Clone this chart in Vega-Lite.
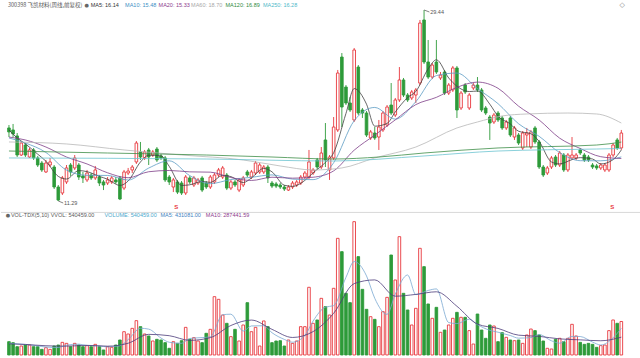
{
"$schema": "https://vega.github.io/schema/vega-lite/v6.json",
"padding": 0,
"spacing": 0,
"background": "white",
"config": {"view": {"stroke": null}, "concat": {"spacing": 0}},
"datasets": {
"k": [
{"i":0,"o":18.23,"h":18.51,"l":17.37,"c":17.85,"v":215000},
{"i":1,"o":18.04,"h":18.61,"l":17.37,"c":17.66,"v":199000},
{"i":2,"o":17.47,"h":17.75,"l":15.47,"c":15.66,"v":134000},
{"i":3,"o":15.66,"h":16.99,"l":15.57,"c":16.80,"v":145000},
{"i":4,"o":16.61,"h":16.80,"l":15.47,"c":15.66,"v":161000},
{"i":5,"o":15.47,"h":16.33,"l":15.38,"c":16.14,"v":161000},
{"i":6,"o":16.14,"h":16.33,"l":15.19,"c":15.38,"v":134000},
{"i":7,"o":15.38,"h":15.57,"l":14.52,"c":14.71,"v":134000},
{"i":8,"o":14.90,"h":15.09,"l":14.05,"c":14.24,"v":91000},
{"i":9,"o":14.05,"h":15.19,"l":13.95,"c":14.90,"v":118000},
{"i":10,"o":14.71,"h":15.38,"l":14.52,"c":15.00,"v":91000},
{"i":11,"o":14.52,"h":14.71,"l":12.43,"c":12.62,"v":145000},
{"i":12,"o":12.62,"h":12.81,"l":11.29,"c":11.38,"v":161000},
{"i":13,"o":12.05,"h":13.67,"l":11.86,"c":13.48,"v":204000},
{"i":14,"o":13.10,"h":14.71,"l":12.91,"c":14.43,"v":188000},
{"i":15,"o":14.71,"h":14.90,"l":13.67,"c":14.05,"v":134000},
{"i":16,"o":14.43,"h":15.66,"l":14.24,"c":15.38,"v":188000},
{"i":17,"o":14.71,"h":14.90,"l":13.29,"c":13.57,"v":161000},
{"i":18,"o":13.67,"h":14.05,"l":13.00,"c":13.48,"v":134000},
{"i":19,"o":13.29,"h":14.24,"l":13.10,"c":13.95,"v":151000},
{"i":20,"o":13.76,"h":13.95,"l":13.29,"c":13.48,"v":134000},
{"i":21,"o":13.48,"h":14.62,"l":13.29,"c":14.24,"v":172000},
{"i":22,"o":13.57,"h":13.76,"l":12.71,"c":13.00,"v":134000},
{"i":23,"o":13.10,"h":13.29,"l":12.33,"c":12.81,"v":81000},
{"i":24,"o":13.00,"h":13.57,"l":12.81,"c":13.29,"v":134000},
{"i":25,"o":13.10,"h":13.67,"l":12.91,"c":13.48,"v":124000},
{"i":26,"o":13.29,"h":13.57,"l":12.91,"c":13.10,"v":161000},
{"i":27,"o":13.48,"h":13.67,"l":11.38,"c":11.48,"v":242000},
{"i":28,"o":12.52,"h":14.24,"l":12.33,"c":14.05,"v":376000},
{"i":29,"o":13.95,"h":14.43,"l":13.76,"c":14.14,"v":339000},
{"i":30,"o":14.24,"h":14.71,"l":13.95,"c":14.52,"v":430000},
{"i":31,"o":15.00,"h":16.99,"l":14.81,"c":16.80,"v":554000},
{"i":32,"o":15.95,"h":16.90,"l":15.19,"c":15.47,"v":457000},
{"i":33,"o":15.38,"h":16.14,"l":15.19,"c":15.95,"v":339000},
{"i":34,"o":16.14,"h":16.33,"l":14.71,"c":15.47,"v":307000},
{"i":35,"o":15.66,"h":16.14,"l":15.47,"c":15.95,"v":226000},
{"i":36,"o":16.23,"h":16.42,"l":15.00,"c":15.19,"v":253000},
{"i":37,"o":15.57,"h":15.76,"l":15.19,"c":15.38,"v":242000},
{"i":38,"o":15.38,"h":15.57,"l":13.10,"c":13.29,"v":199000},
{"i":39,"o":13.57,"h":13.76,"l":12.81,"c":13.10,"v":108000},
{"i":40,"o":12.62,"h":13.48,"l":12.14,"c":13.29,"v":215000},
{"i":41,"o":13.10,"h":13.29,"l":11.95,"c":12.14,"v":188000},
{"i":42,"o":13.00,"h":13.19,"l":11.86,"c":12.05,"v":231000},
{"i":43,"o":12.05,"h":13.76,"l":11.86,"c":13.57,"v":446000},
{"i":44,"o":13.48,"h":13.67,"l":12.91,"c":13.10,"v":253000},
{"i":45,"o":12.81,"h":13.67,"l":12.62,"c":13.48,"v":280000},
{"i":46,"o":13.00,"h":13.48,"l":12.81,"c":13.29,"v":226000},
{"i":47,"o":13.48,"h":13.67,"l":12.14,"c":12.33,"v":199000},
{"i":48,"o":13.00,"h":13.19,"l":12.43,"c":12.62,"v":350000},
{"i":49,"o":12.62,"h":13.76,"l":12.43,"c":13.57,"v":414000},
{"i":50,"o":13.10,"h":13.95,"l":12.91,"c":13.76,"v":941000},
{"i":51,"o":13.76,"h":14.43,"l":13.57,"c":14.24,"v":898000},
{"i":52,"o":13.57,"h":14.62,"l":13.38,"c":14.43,"v":645000},
{"i":53,"o":13.76,"h":13.95,"l":12.33,"c":12.52,"v":511000},
{"i":54,"o":12.52,"h":13.29,"l":12.33,"c":13.10,"v":296000},
{"i":55,"o":13.10,"h":13.29,"l":12.62,"c":12.81,"v":414000},
{"i":56,"o":12.33,"h":13.48,"l":12.14,"c":13.29,"v":226000},
{"i":57,"o":12.81,"h":13.67,"l":12.62,"c":13.48,"v":484000},
{"i":58,"o":14.05,"h":14.24,"l":13.57,"c":13.76,"v":844000},
{"i":59,"o":13.57,"h":14.24,"l":13.38,"c":14.05,"v":376000},
{"i":60,"o":13.95,"h":15.09,"l":13.76,"c":14.90,"v":446000},
{"i":61,"o":14.05,"h":14.90,"l":13.86,"c":14.71,"v":145000},
{"i":62,"o":14.05,"h":14.71,"l":13.86,"c":14.52,"v":549000},
{"i":63,"o":14.52,"h":14.71,"l":13.00,"c":13.48,"v":457000},
{"i":64,"o":13.00,"h":13.19,"l":12.52,"c":12.71,"v":199000},
{"i":65,"o":12.91,"h":13.10,"l":12.52,"c":12.71,"v":226000},
{"i":66,"o":12.81,"h":13.00,"l":12.43,"c":12.62,"v":231000},
{"i":67,"o":12.62,"h":12.81,"l":12.24,"c":12.43,"v":145000},
{"i":68,"o":12.33,"h":12.81,"l":12.24,"c":12.62,"v":242000},
{"i":69,"o":12.62,"h":13.19,"l":12.43,"c":13.00,"v":188000},
{"i":70,"o":12.81,"h":13.29,"l":12.62,"c":13.10,"v":226000},
{"i":71,"o":13.00,"h":13.76,"l":12.81,"c":13.57,"v":457000},
{"i":72,"o":13.57,"h":14.14,"l":13.38,"c":13.95,"v":457000},
{"i":73,"o":13.57,"h":16.14,"l":13.38,"c":15.00,"v":1092000},
{"i":74,"o":13.95,"h":14.43,"l":13.76,"c":14.24,"v":511000},
{"i":75,"o":15.19,"h":15.38,"l":14.24,"c":14.52,"v":565000},
{"i":76,"o":14.52,"h":16.42,"l":14.33,"c":15.85,"v":914000},
{"i":77,"o":17.09,"h":18.70,"l":14.52,"c":15.19,"v":780000},
{"i":78,"o":14.24,"h":15.66,"l":13.29,"c":15.47,"v":645000},
{"i":79,"o":15.38,"h":19.27,"l":15.19,"c":18.32,"v":1076000},
{"i":80,"o":18.04,"h":23.74,"l":17.85,"c":23.45,"v":1882000},
{"i":81,"o":24.97,"h":25.35,"l":18.32,"c":20.22,"v":1667000},
{"i":82,"o":22.12,"h":22.31,"l":20.41,"c":20.60,"v":995000},
{"i":83,"o":20.60,"h":21.17,"l":19.75,"c":19.94,"v":844000},
{"i":84,"o":18.99,"h":25.83,"l":18.80,"c":25.64,"v":2151000},
{"i":85,"o":24.02,"h":24.21,"l":19.46,"c":19.65,"v":1587000},
{"i":86,"o":19.94,"h":20.13,"l":19.18,"c":19.65,"v":1059000},
{"i":87,"o":19.65,"h":19.84,"l":17.37,"c":17.56,"v":737000},
{"i":88,"o":17.28,"h":18.04,"l":17.09,"c":17.85,"v":618000},
{"i":89,"o":17.75,"h":18.32,"l":17.09,"c":17.28,"v":575000},
{"i":90,"o":17.37,"h":18.99,"l":16.14,"c":18.32,"v":457000},
{"i":91,"o":18.04,"h":19.84,"l":17.85,"c":19.65,"v":699000},
{"i":92,"o":18.51,"h":20.41,"l":18.32,"c":20.22,"v":930000},
{"i":93,"o":20.41,"h":22.50,"l":19.46,"c":19.65,"v":1613000},
{"i":94,"o":19.46,"h":21.08,"l":19.27,"c":20.89,"v":1210000},
{"i":95,"o":20.89,"h":24.02,"l":20.70,"c":22.79,"v":1909000},
{"i":96,"o":22.79,"h":22.98,"l":21.17,"c":21.36,"v":995000},
{"i":97,"o":21.36,"h":21.55,"l":20.70,"c":20.89,"v":726000},
{"i":98,"o":21.08,"h":21.84,"l":20.89,"c":21.65,"v":484000},
{"i":99,"o":21.36,"h":22.03,"l":20.60,"c":21.84,"v":753000},
{"i":100,"o":22.50,"h":28.49,"l":22.31,"c":28.20,"v":1721000},
{"i":101,"o":28.49,"h":29.44,"l":24.31,"c":24.50,"v":1425000},
{"i":102,"o":24.50,"h":26.59,"l":22.88,"c":23.07,"v":823000},
{"i":103,"o":23.07,"h":24.40,"l":22.88,"c":24.21,"v":592000},
{"i":104,"o":24.50,"h":26.59,"l":23.36,"c":23.55,"v":769000},
{"i":105,"o":22.98,"h":23.55,"l":22.79,"c":23.26,"v":366000},
{"i":106,"o":23.55,"h":23.74,"l":21.36,"c":21.55,"v":403000},
{"i":107,"o":21.55,"h":22.50,"l":21.36,"c":22.31,"v":484000},
{"i":108,"o":21.84,"h":24.12,"l":21.65,"c":23.93,"v":592000},
{"i":109,"o":23.93,"h":24.12,"l":19.18,"c":19.94,"v":688000},
{"i":110,"o":20.13,"h":21.74,"l":19.94,"c":21.55,"v":608000},
{"i":111,"o":22.31,"h":22.50,"l":21.46,"c":21.65,"v":608000},
{"i":112,"o":20.13,"h":21.55,"l":19.94,"c":21.36,"v":393000},
{"i":113,"o":22.03,"h":22.50,"l":21.84,"c":22.31,"v":177000},
{"i":114,"o":22.31,"h":23.07,"l":21.65,"c":21.84,"v":661000},
{"i":115,"o":21.84,"h":22.03,"l":19.75,"c":19.94,"v":403000},
{"i":116,"o":20.13,"h":20.32,"l":19.46,"c":19.65,"v":269000},
{"i":117,"o":19.27,"h":19.46,"l":17.09,"c":18.70,"v":484000},
{"i":118,"o":18.80,"h":19.65,"l":18.61,"c":19.46,"v":468000},
{"i":119,"o":19.65,"h":19.84,"l":18.80,"c":18.99,"v":215000},
{"i":120,"o":19.18,"h":19.37,"l":18.04,"c":18.23,"v":360000},
{"i":121,"o":18.23,"h":18.99,"l":18.04,"c":18.80,"v":285000},
{"i":122,"o":19.18,"h":19.37,"l":17.37,"c":17.56,"v":242000},
{"i":123,"o":17.37,"h":18.42,"l":17.09,"c":18.23,"v":231000},
{"i":124,"o":17.56,"h":17.75,"l":16.61,"c":16.80,"v":242000},
{"i":125,"o":16.33,"h":17.94,"l":16.14,"c":17.75,"v":188000},
{"i":126,"o":17.56,"h":18.23,"l":16.42,"c":17.75,"v":323000},
{"i":127,"o":16.42,"h":18.04,"l":16.23,"c":17.85,"v":419000},
{"i":128,"o":18.23,"h":18.42,"l":16.71,"c":16.90,"v":393000},
{"i":129,"o":16.90,"h":17.09,"l":14.33,"c":14.52,"v":323000},
{"i":130,"o":14.52,"h":14.71,"l":13.57,"c":13.76,"v":226000},
{"i":131,"o":13.95,"h":14.62,"l":13.76,"c":14.43,"v":108000},
{"i":132,"o":14.52,"h":15.57,"l":14.33,"c":15.38,"v":97000},
{"i":133,"o":15.47,"h":15.66,"l":14.52,"c":14.71,"v":253000},
{"i":134,"o":14.71,"h":16.04,"l":14.52,"c":15.85,"v":269000},
{"i":135,"o":15.66,"h":15.85,"l":14.05,"c":14.24,"v":215000},
{"i":136,"o":14.24,"h":15.85,"l":14.05,"c":15.66,"v":269000},
{"i":137,"o":15.38,"h":17.37,"l":15.19,"c":15.66,"v":495000},
{"i":138,"o":15.38,"h":15.85,"l":15.19,"c":15.66,"v":307000},
{"i":139,"o":16.14,"h":16.33,"l":15.66,"c":15.85,"v":204000},
{"i":140,"o":15.66,"h":15.85,"l":15.00,"c":15.19,"v":172000},
{"i":141,"o":15.47,"h":15.66,"l":15.00,"c":15.19,"v":188000},
{"i":142,"o":14.71,"h":14.90,"l":14.33,"c":14.52,"v":172000},
{"i":143,"o":14.62,"h":14.81,"l":14.24,"c":14.43,"v":124000},
{"i":144,"o":14.43,"h":14.90,"l":14.24,"c":14.71,"v":151000},
{"i":145,"o":14.24,"h":14.90,"l":14.05,"c":14.71,"v":161000},
{"i":146,"o":14.24,"h":15.85,"l":14.05,"c":15.66,"v":393000},
{"i":147,"o":15.66,"h":16.80,"l":15.47,"c":16.61,"v":565000},
{"i":148,"o":17.09,"h":17.28,"l":16.14,"c":16.33,"v":511000},
{"i":149,"o":16.33,"h":18.04,"l":16.14,"c":17.75,"v":540459}
],
"ma": [
{"s":"MA5","i":0,"p":18.04},{"s":"MA5","i":2,"p":17.28},{"s":"MA5","i":4,"p":16.72},{"s":"MA5","i":7,"p":15.74},{"s":"MA5","i":9,"p":15.07},{"s":"MA5","i":12,"p":13.63},{"s":"MA5","i":14,"p":13.38},{"s":"MA5","i":17,"p":14.18},{"s":"MA5","i":19,"p":14.08},{"s":"MA5","i":22,"p":13.63},{"s":"MA5","i":24,"p":13.36},{"s":"MA5","i":27,"p":12.77},{"s":"MA5","i":29,"p":13.19},{"s":"MA5","i":32,"p":15.00},{"s":"MA5","i":34,"p":15.64},{"s":"MA5","i":37,"p":15.58},{"s":"MA5","i":39,"p":14.58},{"s":"MA5","i":42,"p":12.77},{"s":"MA5","i":44,"p":12.83},{"s":"MA5","i":47,"p":13.15},{"s":"MA5","i":49,"p":13.06},{"s":"MA5","i":52,"p":13.72},{"s":"MA5","i":54,"p":13.61},{"s":"MA5","i":57,"p":13.04},{"s":"MA5","i":59,"p":13.48},{"s":"MA5","i":62,"p":14.39},{"s":"MA5","i":64,"p":14.06},{"s":"MA5","i":67,"p":12.79},{"s":"MA5","i":69,"p":12.68},{"s":"MA5","i":72,"p":13.25},{"s":"MA5","i":74,"p":13.97},{"s":"MA5","i":77,"p":14.96},{"s":"MA5","i":79,"p":15.87},{"s":"MA5","i":82,"p":19.61},{"s":"MA5","i":84,"p":21.97},{"s":"MA5","i":87,"p":20.49},{"s":"MA5","i":89,"p":18.40},{"s":"MA5","i":92,"p":18.66},{"s":"MA5","i":94,"p":19.75},{"s":"MA5","i":97,"p":21.12},{"s":"MA5","i":99,"p":21.70},{"s":"MA5","i":102,"p":23.85},{"s":"MA5","i":104,"p":24.71},{"s":"MA5","i":107,"p":22.98},{"s":"MA5","i":109,"p":22.20},{"s":"MA5","i":112,"p":21.69},{"s":"MA5","i":114,"p":21.74},{"s":"MA5","i":117,"p":20.49},{"s":"MA5","i":119,"p":19.35},{"s":"MA5","i":122,"p":18.61},{"s":"MA5","i":124,"p":17.92},{"s":"MA5","i":127,"p":17.68},{"s":"MA5","i":129,"p":16.95},{"s":"MA5","i":132,"p":15.00},{"s":"MA5","i":134,"p":14.82},{"s":"MA5","i":137,"p":15.22},{"s":"MA5","i":139,"p":15.41},{"s":"MA5","i":142,"p":15.28},{"s":"MA5","i":144,"p":14.81},{"s":"MA5","i":147,"p":15.22},{"s":"MA5","i":149,"p":16.14},
{"s":"MA10","i":0,"p":17.28},{"s":"MA10","i":4,"p":16.80},{"s":"MA10","i":9,"p":15.90},{"s":"MA10","i":14,"p":14.23},{"s":"MA10","i":19,"p":13.73},{"s":"MA10","i":24,"p":13.72},{"s":"MA10","i":29,"p":13.28},{"s":"MA10","i":34,"p":14.42},{"s":"MA10","i":39,"p":15.11},{"s":"MA10","i":44,"p":13.70},{"s":"MA10","i":49,"p":12.94},{"s":"MA10","i":54,"p":13.33},{"s":"MA10","i":59,"p":13.54},{"s":"MA10","i":64,"p":13.77},{"s":"MA10","i":69,"p":13.37},{"s":"MA10","i":74,"p":13.32},{"s":"MA10","i":79,"p":14.92},{"s":"MA10","i":84,"p":18.92},{"s":"MA10","i":89,"p":20.18},{"s":"MA10","i":94,"p":19.07},{"s":"MA10","i":99,"p":20.73},{"s":"MA10","i":104,"p":23.21},{"s":"MA10","i":109,"p":23.45},{"s":"MA10","i":114,"p":21.97},{"s":"MA10","i":119,"p":20.54},{"s":"MA10","i":124,"p":18.63},{"s":"MA10","i":129,"p":17.44},{"s":"MA10","i":134,"p":15.89},{"s":"MA10","i":139,"p":15.12},{"s":"MA10","i":144,"p":15.11},{"s":"MA10","i":149,"p":15.48},
{"s":"MA20","i":0,"p":17.37},{"s":"MA20","i":4,"p":17.09},{"s":"MA20","i":9,"p":16.42},{"s":"MA20","i":14,"p":15.47},{"s":"MA20","i":19,"p":14.81},{"s":"MA20","i":24,"p":13.97},{"s":"MA20","i":29,"p":13.50},{"s":"MA20","i":34,"p":14.07},{"s":"MA20","i":39,"p":14.19},{"s":"MA20","i":44,"p":14.06},{"s":"MA20","i":49,"p":14.03},{"s":"MA20","i":54,"p":13.52},{"s":"MA20","i":59,"p":13.24},{"s":"MA20","i":64,"p":13.55},{"s":"MA20","i":69,"p":13.46},{"s":"MA20","i":74,"p":13.55},{"s":"MA20","i":79,"p":14.15},{"s":"MA20","i":84,"p":16.12},{"s":"MA20","i":89,"p":17.55},{"s":"MA20","i":94,"p":19.00},{"s":"MA20","i":99,"p":20.45},{"s":"MA20","i":104,"p":21.14},{"s":"MA20","i":109,"p":22.09},{"s":"MA20","i":114,"p":22.59},{"s":"MA20","i":119,"p":22.00},{"s":"MA20","i":124,"p":20.30},{"s":"MA20","i":129,"p":18.99},{"s":"MA20","i":134,"p":17.26},{"s":"MA20","i":139,"p":16.28},{"s":"MA20","i":144,"p":15.50},{"s":"MA20","i":149,"p":15.33},
{"s":"MA60","i":0,"p":16.90},{"s":"MA60","i":14,"p":16.71},{"s":"MA60","i":28,"p":16.14},{"s":"MA60","i":42,"p":15.66},{"s":"MA60","i":57,"p":15.19},{"s":"MA60","i":66,"p":14.62},{"s":"MA60","i":74,"p":14.24},{"s":"MA60","i":81,"p":14.43},{"s":"MA60","i":89,"p":15.38},{"s":"MA60","i":99,"p":16.42},{"s":"MA60","i":109,"p":18.23},{"s":"MA60","i":114,"p":18.80},{"s":"MA60","i":120,"p":19.37},{"s":"MA60","i":126,"p":19.56},{"s":"MA60","i":136,"p":19.65},{"s":"MA60","i":143,"p":19.56},{"s":"MA60","i":149,"p":18.70},
{"s":"MA120","i":0,"p":16.04},{"s":"MA120","i":24,"p":15.85},{"s":"MA120","i":48,"p":15.66},{"s":"MA120","i":64,"p":15.47},{"s":"MA120","i":79,"p":15.28},{"s":"MA120","i":90,"p":15.47},{"s":"MA120","i":101,"p":15.85},{"s":"MA120","i":119,"p":16.33},{"s":"MA120","i":143,"p":16.61},{"s":"MA120","i":149,"p":16.89},
{"s":"MA250","i":0,"p":15.38},{"s":"MA250","i":48,"p":15.28},{"s":"MA250","i":79,"p":15.09},{"s":"MA250","i":101,"p":15.57},{"s":"MA250","i":119,"p":16.04},{"s":"MA250","i":143,"p":16.23},{"s":"MA250","i":149,"p":16.28}
],
"vma": [
{"s":"VMA5","i":0,"v":190000},{"s":"VMA5","i":2,"v":180000},{"s":"VMA5","i":4,"v":170800},{"s":"VMA5","i":7,"v":147000},{"s":"VMA5","i":9,"v":127600},{"s":"VMA5","i":12,"v":121200},{"s":"VMA5","i":14,"v":157800},{"s":"VMA5","i":17,"v":175000},{"s":"VMA5","i":19,"v":153600},{"s":"VMA5","i":22,"v":145000},{"s":"VMA5","i":24,"v":131000},{"s":"VMA5","i":27,"v":148400},{"s":"VMA5","i":29,"v":248400},{"s":"VMA5","i":32,"v":431200},{"s":"VMA5","i":34,"v":417400},{"s":"VMA5","i":37,"v":273400},{"s":"VMA5","i":39,"v":205600},{"s":"VMA5","i":42,"v":188200},{"s":"VMA5","i":44,"v":266600},{"s":"VMA5","i":47,"v":280800},{"s":"VMA5","i":49,"v":293800},{"s":"VMA5","i":52,"v":649600},{"s":"VMA5","i":54,"v":658200},{"s":"VMA5","i":57,"v":386200},{"s":"VMA5","i":59,"v":468800},{"s":"VMA5","i":62,"v":472000},{"s":"VMA5","i":64,"v":359200},{"s":"VMA5","i":67,"v":251600},{"s":"VMA5","i":69,"v":206400},{"s":"VMA5","i":72,"v":314000},{"s":"VMA5","i":74,"v":548600},{"s":"VMA5","i":77,"v":772400},{"s":"VMA5","i":79,"v":796000},{"s":"VMA5","i":82,"v":1253000},{"s":"VMA5","i":84,"v":1507800},{"s":"VMA5","i":87,"v":1275600},{"s":"VMA5","i":89,"v":915200},{"s":"VMA5","i":92,"v":655800},{"s":"VMA5","i":94,"v":981800},{"s":"VMA5","i":97,"v":1290600},{"s":"VMA5","i":99,"v":973400},{"s":"VMA5","i":102,"v":1041200},{"s":"VMA5","i":104,"v":1066000},{"s":"VMA5","i":107,"v":522800},{"s":"VMA5","i":109,"v":506600},{"s":"VMA5","i":112,"v":577800},{"s":"VMA5","i":114,"v":489400},{"s":"VMA5","i":117,"v":398800},{"s":"VMA5","i":119,"v":367800},{"s":"VMA5","i":122,"v":314000},{"s":"VMA5","i":124,"v":272000},{"s":"VMA5","i":127,"v":280600},{"s":"VMA5","i":129,"v":329200},{"s":"VMA5","i":132,"v":229400},{"s":"VMA5","i":134,"v":190600},{"s":"VMA5","i":137,"v":300200},{"s":"VMA5","i":139,"v":298000},{"s":"VMA5","i":142,"v":208600},{"s":"VMA5","i":144,"v":161400},{"s":"VMA5","i":147,"v":278800},{"s":"VMA5","i":149,"v":431081},
{"s":"VMA10","i":0,"v":180000},{"s":"VMA10","i":4,"v":170000},{"s":"VMA10","i":9,"v":149200},{"s":"VMA10","i":14,"v":142700},{"s":"VMA10","i":19,"v":155700},{"s":"VMA10","i":24,"v":142300},{"s":"VMA10","i":29,"v":189700},{"s":"VMA10","i":34,"v":332900},{"s":"VMA10","i":39,"v":311500},{"s":"VMA10","i":44,"v":236100},{"s":"VMA10","i":49,"v":280200},{"s":"VMA10","i":54,"v":476000},{"s":"VMA10","i":59,"v":563500},{"s":"VMA10","i":64,"v":414000},{"s":"VMA10","i":69,"v":282800},{"s":"VMA10","i":74,"v":377500},{"s":"VMA10","i":79,"v":672300},{"s":"VMA10","i":84,"v":1151900},{"s":"VMA10","i":89,"v":1211500},{"s":"VMA10","i":94,"v":948500},{"s":"VMA10","i":99,"v":977600},{"s":"VMA10","i":104,"v":1019700},{"s":"VMA10","i":109,"v":786300},{"s":"VMA10","i":114,"v":498000},{"s":"VMA10","i":119,"v":428600},{"s":"VMA10","i":124,"v":319900},{"s":"VMA10","i":129,"v":300600},{"s":"VMA10","i":134,"v":259900},{"s":"VMA10","i":139,"v":244300},{"s":"VMA10","i":144,"v":229700},{"s":"VMA10","i":149,"v":287441.59}
]
},
"vconcat": [
{"width": 640, "height": 211,
 "layer": [
 {"data": {"name": "k"}, "mark": {"type": "rule", "strokeWidth": 0.9},
  "encoding": {
   "x": {"field": "i", "type": "quantitative", "scale": {"domain": [-0.72, 152.57], "nice": false, "zero": false}, "axis": null},
   "y": {"field": "l", "type": "quantitative", "scale": {"domain": [10.34, 30.39], "nice": false, "zero": false}, "axis": null},
   "y2": {"field": "h"},
   "stroke": {"condition": {"test": "datum.c >= datum.o", "value": "#e8383d"}, "value": "#2e9b3a"}}},
 {"data": {"name": "k"}, "mark": {"type": "bar", "width": 2.6, "strokeWidth": 0.9},
  "encoding": {
   "x": {"field": "i", "type": "quantitative", "axis": null},
   "y": {"field": "o", "type": "quantitative", "axis": null},
   "y2": {"field": "c"},
   "fill": {"condition": {"test": "datum.c >= datum.o", "value": "#ffffff"}, "value": "#2e9b3a"},
   "stroke": {"condition": {"test": "datum.c >= datum.o", "value": "#e8383d"}, "value": "#2e9b3a"}}},
 {"data": {"name": "ma"}, "mark": {"type": "line", "strokeWidth": 0.8, "interpolate": "monotone"},
  "encoding": {
   "x": {"field": "i", "type": "quantitative", "axis": null},
   "y": {"field": "p", "type": "quantitative", "axis": null},
   "color": {"field": "s", "type": "nominal", "legend": null,
     "scale": {"domain": ["MA5", "MA10", "MA20", "MA60", "MA120", "MA250"], "range": ["#404040", "#5c9cc4", "#7d3d88", "#b8b8b8", "#3e8e48", "#6cc4d0"]}}}},
 {"data": {"values": [{}]}, "mark": {"type": "rule", "color": "#666", "strokeWidth": 0.8},
  "encoding": {"x": {"datum": 101}, "x2": {"datum": 102.3}, "y": {"datum": 29.44}, "y2": {"datum": 29.25}}},
 {"data": {"values": [{}]}, "mark": {"type": "rule", "color": "#666", "strokeWidth": 0.8},
  "encoding": {"x": {"datum": 12}, "x2": {"datum": 13.2}, "y": {"datum": 11.29}, "y2": {"datum": 11.1}}},
 {"data": {"values": [{}]}, "mark": {"type": "text", "text": "300398 飞凯材料(周线,前复权)", "align": "left", "baseline": "middle", "fontSize": 5.5, "font": "Noto Sans CJK SC", "color": "#5a5a5a"},
  "encoding": {"x": {"datum": -0.24}, "y": {"datum": 29.91}}},
 {"data": {"values": [{}]}, "mark": {"type": "text", "text": "●", "align": "center", "baseline": "middle", "fontSize": 5, "font": "DejaVu Sans", "color": "#666"},
  "encoding": {"x": {"datum": 18.9}, "y": {"datum": 29.91}}},
 {"data": {"values": [{}]}, "mark": {"type": "text", "text": "MA5: 16.14", "align": "left", "baseline": "middle", "fontSize": 5.5, "font": "Liberation Sans", "color": "#333333"},
  "encoding": {"x": {"datum": 19.88}, "y": {"datum": 29.91}}},
 {"data": {"values": [{}]}, "mark": {"type": "text", "text": "MA10: 15.48", "align": "left", "baseline": "middle", "fontSize": 5.5, "font": "Liberation Sans", "color": "#3d8fc4"},
  "encoding": {"x": {"datum": 28.26}, "y": {"datum": 29.91}}},
 {"data": {"values": [{}]}, "mark": {"type": "text", "text": "MA20: 15.33", "align": "left", "baseline": "middle", "fontSize": 5.5, "font": "Liberation Sans", "color": "#8c3b8c"},
  "encoding": {"x": {"datum": 36.4}, "y": {"datum": 29.91}}},
 {"data": {"values": [{}]}, "mark": {"type": "text", "text": "MA60: 18.70", "align": "left", "baseline": "middle", "fontSize": 5.5, "font": "Liberation Sans", "color": "#a8a8a8"},
  "encoding": {"x": {"datum": 44.31}, "y": {"datum": 29.91}}},
 {"data": {"values": [{}]}, "mark": {"type": "text", "text": "MA120: 16.89", "align": "left", "baseline": "middle", "fontSize": 5.5, "font": "Liberation Sans", "color": "#2f8a3c"},
  "encoding": {"x": {"datum": 52.69}, "y": {"datum": 29.91}}},
 {"data": {"values": [{}]}, "mark": {"type": "text", "text": "MA250: 16.28", "align": "left", "baseline": "middle", "fontSize": 5.5, "font": "Liberation Sans", "color": "#4fb9c9"},
  "encoding": {"x": {"datum": 61.8}, "y": {"datum": 29.91}}},
 {"data": {"values": [{}]}, "mark": {"type": "text", "text": "◇", "align": "center", "baseline": "middle", "fontSize": 7, "font": "DejaVu Sans", "color": "#888"},
  "encoding": {"x": {"datum": 149.2}, "y": {"datum": 29.95}}},
 {"data": {"values": [{}]}, "mark": {"type": "text", "text": "29.44", "align": "left", "baseline": "middle", "fontSize": 5.5, "font": "Liberation Sans", "color": "#555"},
  "encoding": {"x": {"datum": 102.5}, "y": {"datum": 29.25}}},
 {"data": {"values": [{}]}, "mark": {"type": "text", "text": "11.29", "align": "left", "baseline": "middle", "fontSize": 5.5, "font": "Liberation Sans", "color": "#555"},
  "encoding": {"x": {"datum": 13.41}, "y": {"datum": 11.1}}},
 {"data": {"values": [{}]}, "mark": {"type": "text", "text": "S", "align": "center", "baseline": "middle", "fontSize": 6, "fontWeight": "bold", "font": "Liberation Sans", "color": "#e8383d"},
  "encoding": {"x": {"datum": 40.7}, "y": {"datum": 10.72}}},
 {"data": {"values": [{}]}, "mark": {"type": "text", "text": "S", "align": "center", "baseline": "middle", "fontSize": 6, "fontWeight": "bold", "font": "Liberation Sans", "color": "#e8383d"},
  "encoding": {"x": {"datum": 146.8}, "y": {"datum": 10.72}}}
 ]},
{"width": 640, "height": 147,
 "layer": [
 {"data": {"values": [{}]}, "mark": {"type": "rule", "color": "#d9d9d9", "strokeWidth": 1},
  "encoding": {"y": {"datum": 2300000, "scale": {"domain": [-48400, 2323000], "nice": false, "zero": false}, "axis": null}}},
 {"data": {"name": "k"}, "mark": {"type": "bar", "width": 2.6, "strokeWidth": 0.9},
  "encoding": {
   "x": {"field": "i", "type": "quantitative", "scale": {"domain": [-0.72, 152.57], "nice": false, "zero": false}, "axis": null},
   "y": {"field": "v", "type": "quantitative", "axis": null},
   "y2": {"datum": 0},
   "fill": {"condition": {"test": "datum.c >= datum.o", "value": "#ffffff"}, "value": "#2e9b3a"},
   "stroke": {"condition": {"test": "datum.c >= datum.o", "value": "#e8383d"}, "value": "#2e9b3a"}}},
 {"data": {"name": "vma"}, "transform": [{"filter": "datum.s == 'VMA5'"}], "mark": {"type": "line", "strokeWidth": 0.8, "interpolate": "monotone", "color": "#7aa8d2"},
  "encoding": {
   "x": {"field": "i", "type": "quantitative", "axis": null},
   "y": {"field": "v", "type": "quantitative", "axis": null}}},
 {"data": {"name": "vma"}, "transform": [{"filter": "datum.s == 'VMA10'"}], "mark": {"type": "line", "strokeWidth": 0.8, "interpolate": "monotone", "color": "#4b3b7a"},
  "encoding": {
   "x": {"field": "i", "type": "quantitative", "axis": null},
   "y": {"field": "v", "type": "quantitative", "axis": null}}},
 {"data": {"values": [{}]}, "mark": {"type": "text", "text": "●", "align": "center", "baseline": "middle", "fontSize": 5, "font": "DejaVu Sans", "color": "#666"},
  "encoding": {"x": {"datum": -0.24}, "y": {"datum": 2258500}}},
 {"data": {"values": [{}]}, "mark": {"type": "text", "text": "VOL-TDX(5,10) VVOL: 540459.00", "align": "left", "baseline": "middle", "fontSize": 5.5, "font": "Liberation Sans", "color": "#5a5a5a"},
  "encoding": {"x": {"datum": 0.48}, "y": {"datum": 2258500}}},
 {"data": {"values": [{}]}, "mark": {"type": "text", "text": "VOLUME: 540459.00", "align": "left", "baseline": "middle", "fontSize": 5.5, "font": "Liberation Sans", "color": "#4aa8cc"},
  "encoding": {"x": {"datum": 23.23}, "y": {"datum": 2258500}}},
 {"data": {"values": [{}]}, "mark": {"type": "text", "text": "MA5: 431081.00", "align": "left", "baseline": "middle", "fontSize": 5.5, "font": "Liberation Sans", "color": "#3d7fc0"},
  "encoding": {"x": {"datum": 36.88}, "y": {"datum": 2258500}}},
 {"data": {"values": [{}]}, "mark": {"type": "text", "text": "MA10: 287441.59", "align": "left", "baseline": "middle", "fontSize": 5.5, "font": "Liberation Sans", "color": "#8c3b8c"},
  "encoding": {"x": {"datum": 47.9}, "y": {"datum": 2258500}}}
 ]}
]
}
